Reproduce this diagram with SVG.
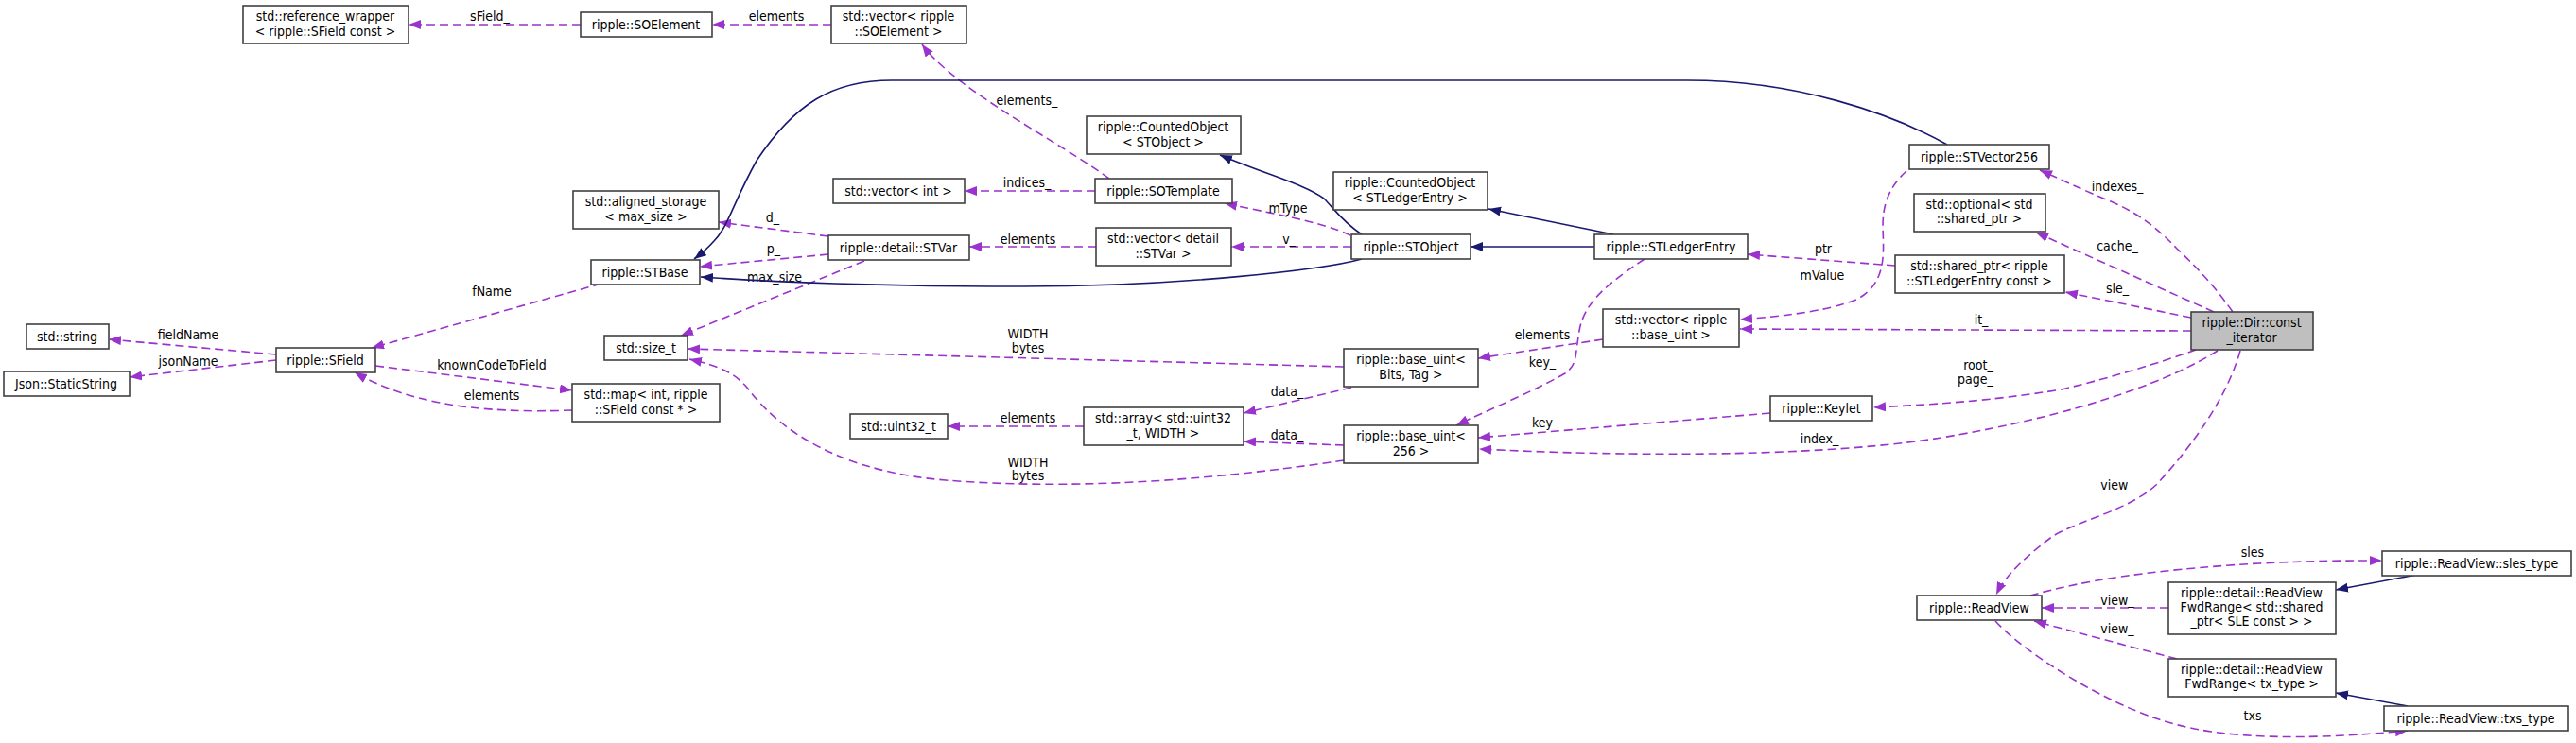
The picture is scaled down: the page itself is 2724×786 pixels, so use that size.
<svg xmlns="http://www.w3.org/2000/svg" width="2724" height="786" viewBox="0 0 2724 786">
<style>
text{font-family:'DejaVu Sans Condensed','DejaVu Sans',sans-serif;font-stretch:condensed;font-size:14px;fill:#000;text-anchor:middle}
.n rect{fill:#fff;stroke:#404040;stroke-width:1.6}
.n rect.cur{fill:#bfbfbf}
.d{fill:none;stroke:#9a32cd;stroke-width:1.6;stroke-dasharray:9,5;marker-end:url(#ap)}
.s{fill:none;stroke:#191970;stroke-width:1.6;marker-end:url(#ab)}
</style>
<defs>
<marker id="ap" markerUnits="userSpaceOnUse" markerWidth="14" markerHeight="11" refX="13" refY="5" orient="auto"><path d="M0,0 L13,5 L0,10 z" fill="#9a32cd"/></marker>
<marker id="ab" markerUnits="userSpaceOnUse" markerWidth="14" markerHeight="11" refX="13" refY="5" orient="auto"><path d="M0,0 L13,5 L0,10 z" fill="#191970"/></marker>
</defs>
<rect width="2724" height="786" fill="#fff"/>
<g id="edges">
<path class="d" d="M614,26 L432,26"/><text x="518" y="22">sField_</text>
<path class="d" d="M879,26 L753,26"/><text x="821" y="22">elements</text>
<path class="d" d="M1173,189 C1120,150 1010,95 975,47"/><text x="1086" y="111">elements_</text>
<path class="d" d="M1158,202 L1020,202"/><text x="1086" y="198">indices_</text>
<path class="d" d="M876,250 L760,235"/><text x="817" y="235">d_</text>
<path class="d" d="M876,269 L740,282"/><text x="818" y="268">p_</text>
<path class="d" d="M914,276 L720,355"/><text x="819" y="298">max_size</text>
<path class="d" d="M1159,261 L1025,261"/><text x="1087" y="258">elements</text>
<path class="d" d="M1428,249 C1400,235 1340,225 1295,215"/><text x="1362" y="225">mType</text>
<path class="d" d="M1429,261 L1302,261"/><text x="1363" y="258">v_</text>
<path class="d" d="M636,300 L393,368"/><text x="520" y="313">fName</text>
<path class="d" d="M292,375 L115,359"/><text x="199" y="359">fieldName</text>
<path class="d" d="M292,381 L137,399"/><text x="199" y="387">jsonName</text>
<path class="d" d="M397,387 L605,413"/><text x="520" y="391">knownCodeToField</text>
<path class="d" d="M605,434 C500,438 430,425 375,394"/><text x="520" y="423">elements</text>
<path class="d" d="M1421,388 L727,369"/><text x="1087" y="358">WIDTH</text><text x="1087" y="373">bytes</text>
<path class="d" d="M1421,487 C1300,505 1150,520 1000,508 C880,498 820,450 790,410 C775,392 755,386 729,380"/><text x="1087" y="494">WIDTH</text><text x="1087" y="508">bytes</text>
<path class="d" d="M1695,359 L1563,379"/><text x="1631" y="359">elements</text>
<path class="d" d="M1739,274 C1700,300 1675,320 1670,350 C1665,380 1668,385 1655,395 C1620,415 1570,435 1540,450"/><text x="1631" y="388">key_</text>
<path class="d" d="M1429,410 L1315,437"/><text x="1361" y="419">data_</text>
<path class="d" d="M1421,471 L1315,467"/><text x="1361" y="465">data_</text>
<path class="d" d="M1146,451 L1002,451"/><text x="1087" y="447">elements</text>
<path class="d" d="M1872,437 L1563,463"/><text x="1631" y="452">key</text>
<path class="d" d="M2004,281 L1848,269"/><text x="1928" y="268">ptr</text>
<path class="d" d="M2016,181 C1995,200 1991,220 1991,240 C1992,270 1995,300 1963,317 C1930,330 1880,335 1840,338"/><text x="1927" y="296">mValue</text>
<path class="d" d="M2317,350 L1840,348"/><text x="2095" y="343">it_</text>
<path class="d" d="M2361,330 C2340,300 2320,280 2302,263 C2280,240 2260,225 2232,213 C2200,200 2180,190 2157,180"/><text x="2239" y="202">indexes_</text>
<path class="d" d="M2341,330 L2153,246"/><text x="2239" y="265">cache_</text>
<path class="d" d="M2317,336 L2184,309"/><text x="2239" y="310">sle_</text>
<path class="d" d="M2322,370 C2280,385 2230,400 2180,412 C2100,425 2040,428 1981,431"/><text x="2092" y="391">root_</text><text x="2089" y="406">page_</text>
<path class="d" d="M2345,371 C2300,400 2200,440 2040,465 C1900,485 1700,482 1564,475"/><text x="1924" y="469">index_</text>
<path class="d" d="M2369,371 C2355,420 2320,470 2280,513 C2250,540 2200,550 2171,567 C2140,590 2120,610 2111,629"/><text x="2239" y="518">view_</text>
<path class="d" d="M2147,630 C2200,615 2270,603 2389,596 C2450,593 2480,593 2519,593"/><text x="2382" y="589">sles</text>
<path class="d" d="M2293,643 L2159,643"/><text x="2239" y="640">view_</text>
<path class="d" d="M2302,697 L2151,657"/><text x="2239" y="670">view_</text>
<path class="d" d="M2110,657 C2140,690 2220,740 2280,760 C2350,785 2450,782 2546,773"/><text x="2382" y="762">txs</text>
<path class="s" d="M2059,153 C2000,120 1900,85 1784,85 L943,85 C880,85 840,110 800,170 C775,215 770,240 755,255 C748,263 742,268 734,274"/>
<path class="s" d="M1440,248 C1420,235 1410,220 1400,210 C1380,195 1340,185 1290,164"/>
<path class="s" d="M1440,274 C1400,285 1250,303 1082,303 C900,303 800,297 741,293"/>
<path class="s" d="M1686,261 L1555,261"/>
<path class="s" d="M1706,248 L1574,221"/>
<path class="s" d="M2555,608 L2470,624"/>
<path class="s" d="M2546,747 L2470,733"/>
</g>
<g id="refwrap" class="n"><rect x="257" y="6" width="175" height="40"/><text x="344" y="22">std::reference_wrapper</text><text x="344" y="38">&lt; ripple::SField const &gt;</text></g>
<g id="SOElement" class="n"><rect x="614" y="13" width="139" height="26"/><text x="683" y="31">ripple::SOElement</text></g>
<g id="vecSOElement" class="n"><rect x="879" y="6" width="143" height="40"/><text x="950" y="22">std::vector&lt; ripple</text><text x="950" y="38">::SOElement &gt;</text></g>
<g id="CountedSTObject" class="n"><rect x="1149" y="123" width="163" height="40"/><text x="1230" y="139">ripple::CountedObject</text><text x="1230" y="155">&lt; STObject &gt;</text></g>
<g id="vecint" class="n"><rect x="881" y="189" width="139" height="26"/><text x="950" y="207">std::vector&lt; int &gt;</text></g>
<g id="SOTemplate" class="n"><rect x="1158" y="189" width="145" height="26"/><text x="1230" y="207">ripple::SOTemplate</text></g>
<g id="aligned" class="n"><rect x="606" y="202" width="154" height="40"/><text x="683" y="218">std::aligned_storage</text><text x="683" y="234">&lt; max_size &gt;</text></g>
<g id="STVar" class="n"><rect x="876" y="249" width="149" height="26"/><text x="950" y="267">ripple::detail::STVar</text></g>
<g id="vecSTVar" class="n"><rect x="1159" y="241" width="143" height="40"/><text x="1230" y="257">std::vector&lt; detail</text><text x="1230" y="273">::STVar &gt;</text></g>
<g id="STBase" class="n"><rect x="625" y="275" width="115" height="26"/><text x="682" y="293">ripple::STBase</text></g>
<g id="CountedSTLE" class="n"><rect x="1410" y="182" width="163" height="40"/><text x="1491" y="198">ripple::CountedObject</text><text x="1491" y="214">&lt; STLedgerEntry &gt;</text></g>
<g id="STObject" class="n"><rect x="1429" y="248" width="126" height="26"/><text x="1492" y="266">ripple::STObject</text></g>
<g id="STLedgerEntry" class="n"><rect x="1686" y="248" width="162" height="26"/><text x="1767" y="266">ripple::STLedgerEntry</text></g>
<g id="STVector256" class="n"><rect x="2019" y="153" width="148" height="26"/><text x="2093" y="171">ripple::STVector256</text></g>
<g id="optional" class="n"><rect x="2024" y="205" width="139" height="40"/><text x="2093" y="221">std::optional&lt; std</text><text x="2093" y="236">::shared_ptr &gt;</text></g>
<g id="sharedptr" class="n"><rect x="2004" y="270" width="179" height="40"/><text x="2093" y="286">std::shared_ptr&lt; ripple</text><text x="2093" y="302">::STLedgerEntry const &gt;</text></g>
<g id="DirConstIterator" class="n"><rect class="cur" x="2317" y="330" width="129" height="40"/><text x="2381" y="346">ripple::Dir::const</text><text x="2381" y="362">_iterator</text></g>
<g id="vecbaseuint" class="n"><rect x="1695" y="327" width="144" height="40"/><text x="1767" y="343">std::vector&lt; ripple</text><text x="1767" y="359">::base_uint &gt;</text></g>
<g id="baseuintBits" class="n"><rect x="1421" y="369" width="142" height="40"/><text x="1492" y="385">ripple::base_uint&lt;</text><text x="1492" y="401">Bits, Tag &gt;</text></g>
<g id="baseuint256" class="n"><rect x="1421" y="450" width="142" height="40"/><text x="1492" y="466">ripple::base_uint&lt;</text><text x="1492" y="482">256 &gt;</text></g>
<g id="Keylet" class="n"><rect x="1872" y="419" width="108" height="26"/><text x="1926" y="437">ripple::Keylet</text></g>
<g id="array" class="n"><rect x="1146" y="431" width="169" height="40"/><text x="1230" y="447">std::array&lt; std::uint32</text><text x="1230" y="463">_t, WIDTH &gt;</text></g>
<g id="uint32" class="n"><rect x="899" y="438" width="103" height="26"/><text x="950" y="456">std::uint32_t</text></g>
<g id="map" class="n"><rect x="605" y="406" width="156" height="40"/><text x="683" y="422">std::map&lt; int, ripple</text><text x="683" y="438">::SField const * &gt;</text></g>
<g id="sizet" class="n"><rect x="639" y="355" width="88" height="26"/><text x="683" y="373">std::size_t</text></g>
<g id="string" class="n"><rect x="28" y="343" width="87" height="26"/><text x="71" y="361">std::string</text></g>
<g id="SField" class="n"><rect x="292" y="368" width="105" height="26"/><text x="344" y="386">ripple::SField</text></g>
<g id="StaticString" class="n"><rect x="4" y="393" width="133" height="26"/><text x="70" y="411">Json::StaticString</text></g>
<g id="ReadView" class="n"><rect x="2027" y="630" width="132" height="26"/><text x="2093" y="648">ripple::ReadView</text></g>
<g id="slestype" class="n"><rect x="2519" y="583" width="200" height="26"/><text x="2619" y="601">ripple::ReadView::sles_type</text></g>
<g id="FwdRangeSLE" class="n"><rect x="2293" y="616" width="177" height="55"/><text x="2381" y="632">ripple::detail::ReadView</text><text x="2381" y="647">FwdRange&lt; std::shared</text><text x="2381" y="662">_ptr&lt; SLE const &gt; &gt;</text></g>
<g id="FwdRangeTx" class="n"><rect x="2293" y="697" width="177" height="40"/><text x="2381" y="713">ripple::detail::ReadView</text><text x="2381" y="728">FwdRange&lt; tx_type &gt;</text></g>
<g id="txstype" class="n"><rect x="2521" y="747" width="195" height="26"/><text x="2618" y="765">ripple::ReadView::txs_type</text></g>
</svg>
